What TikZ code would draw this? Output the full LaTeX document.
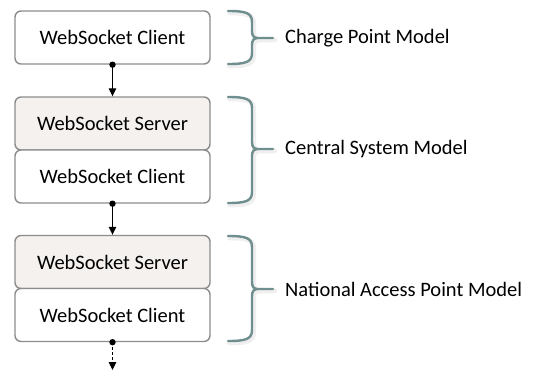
\documentclass[tikz,border=0pt]{standalone}
\usepackage{fontspec}
\setmainfont{Carlito}
\usetikzlibrary{arrows.meta,calc}
\definecolor{boxline}{HTML}{8C8C8C}
\definecolor{serverfill}{HTML}{F4F1EE}
\definecolor{bracecol}{HTML}{6F8E8E}
\tikzset{
  sockbox/.style={draw=boxline, line width=1.4pt, rounded corners=6pt,
    minimum width=195pt, minimum height=53pt, inner sep=0pt,
    font=\fontsize{20.5}{24}\selectfont},
  serverbox/.style={sockbox, fill=serverfill},
  clientbox/.style={sockbox, fill=white},
  link/.style={line width=1.1pt, -{Triangle[length=8pt,width=7.5pt]}},
  dotlink/.style={link, densely dashed},
  braceline/.style={draw=bracecol, line width=2.4pt, line cap=round, line join=round},
  braceshadow/.style={draw=black!14, line width=5pt, line cap=round, line join=round, opacity=0.45},
  modellabel/.style={anchor=west, inner sep=0pt, font=\fontsize{20.5}{24}\selectfont}
}
% brace from y=#1 to y=#2, middle at #3
\newcommand{\modelbrace}[3]{%
  \foreach \sx/\sy/\st in {1.6/1.8/braceshadow, 0/0/braceline}{
    \path[\st, shift={(\sx,\sy)}]
      (228,#1) .. controls (246,#1) and (252,#1+2) .. (252,#1+11)
      -- (252,#3-7) .. controls (252,#3-2) and (254,#3) .. (258,#3)
      .. controls (254,#3) and (252,#3+2) .. (252,#3+7)
      -- (252,#2-11) .. controls (252,#2-2) and (246,#2) .. (228,#2)
      (258,#3) -- (273,#3);
  }}
\begin{document}
\begin{tikzpicture}[x=1pt,y=-1pt]
\useasboundingbox (0,0) rectangle (535,373);

% charge point
\node[clientbox] (cp) at (112.5,37.5) {WebSocket Client};
% central system
\node[serverbox] (csS) at (112.5,123.5) {WebSocket Server};
\node[clientbox] (csC) at (112.5,176.5) {WebSocket Client};
% national access point
\node[serverbox] (napS) at (112.5,262) {WebSocket Server};
\node[clientbox] (napC) at (112.5,315) {WebSocket Client};
\coordinate (next) at (112.5,370);

% links between the layers
\foreach \a/\b/\s in {cp/csS/link, csC/napS/link}{
  \draw[\s] (\a.south) -- (\b.north);
  \fill (\a.south) circle (3.2pt);
}
\draw[dotlink] (napC.south) -- (next);
\fill (napC.south) circle (3.2pt);

% braces and model names
\modelbrace{11}{64}{38}
\node[modellabel] (lcp) at (285,38) {Charge Point Model};
\modelbrace{97}{203}{149}
\node[modellabel] (lcs) at (285,149) {Central System Model};
\modelbrace{236}{341}{289}
\node[modellabel] (lnap) at (285,289) {National Access Point Model};
\end{tikzpicture}
\end{document}
